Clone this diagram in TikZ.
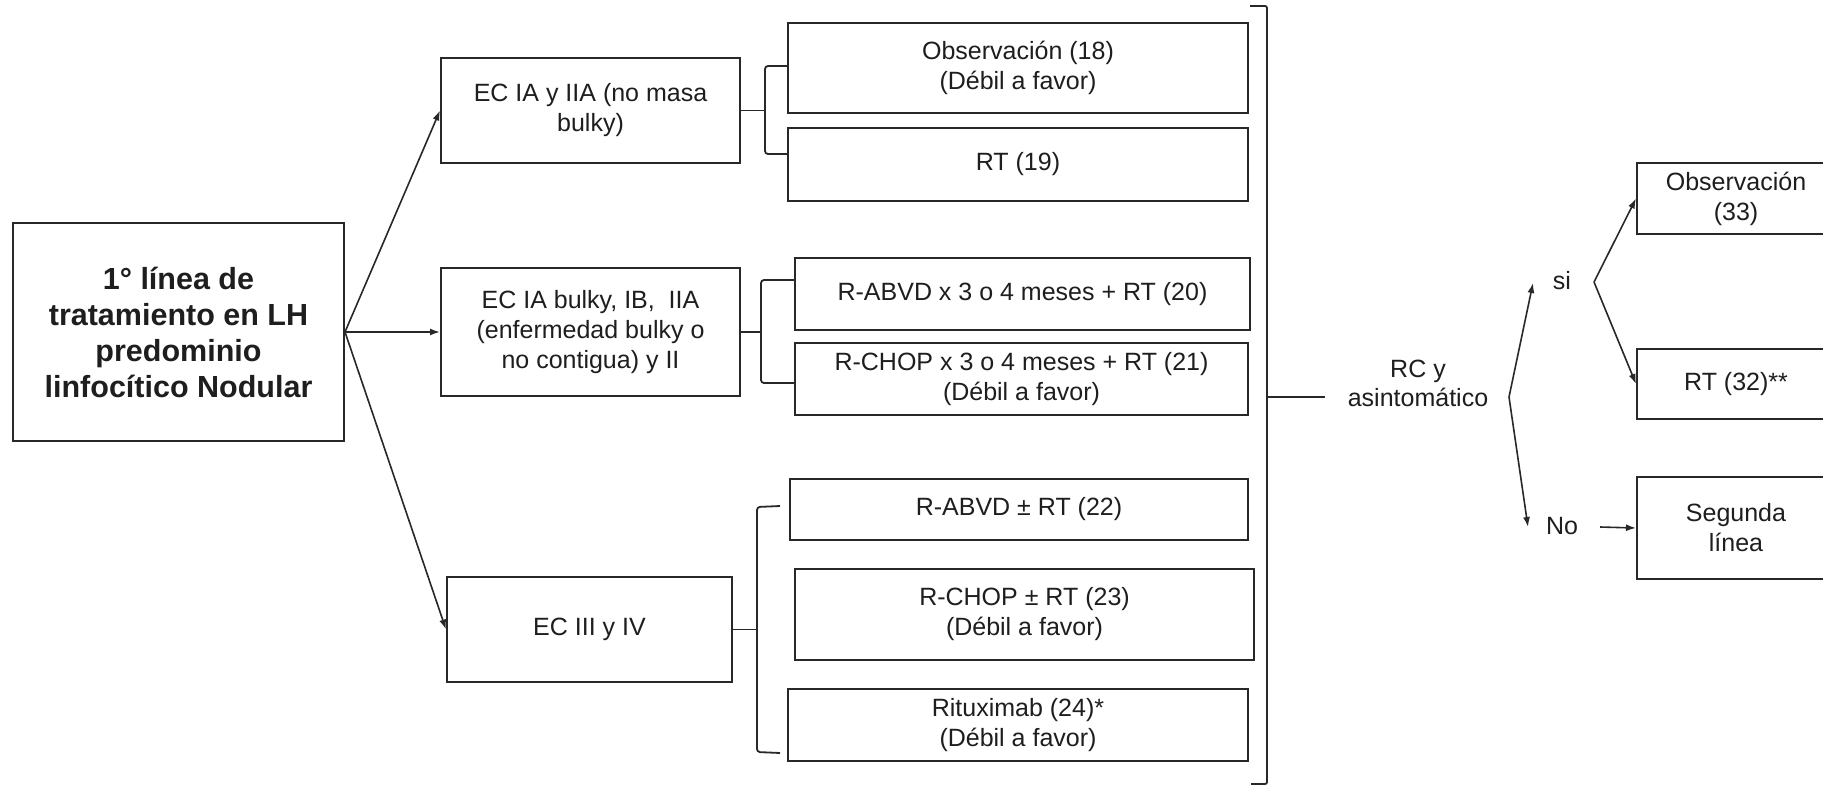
\documentclass[tikz,border=0pt]{standalone}
\usepackage{fontspec}
\setmainfont{Liberation Sans}
\usetikzlibrary{arrows.meta}
\definecolor{linec}{RGB}{40,40,40}
\definecolor{txtc}{RGB}{30,30,30}
\newcommand\bx[6]{\node[box, minimum width={(#4)-(#2)}, minimum height={(#5)-(#3)}] (#1) at ({((#2)+(#4))/2},{((#3)+(#5))/2}) {#6};}
\begin{document}
\begin{tikzpicture}[x=1pt,y=-1pt,
  box/.style={draw=linec, line width=2pt, inner sep=0pt, align=center, text=txtc, font=\fontsize{25}{30}\selectfont},
  conn/.style={draw=linec, line width=1.8pt},
  arr/.style={draw=linec, line width=1.6pt, -{Latex[length=10pt,width=7pt]}},
  lbl/.style={inner sep=0pt, align=center, text=txtc, font=\fontsize{25}{29}\selectfont}]
\useasboundingbox (0,0) rectangle (1823,785);
\clip (0,0) rectangle (1823,785);
\fill[white] (0,0) rectangle (1823,785);

% main box
\node[box, font=\fontsize{30.5}{36}\selectfont\bfseries, minimum width=331, minimum height=218] (main) at (178.5,332) {1° línea de\\tratamiento en LH\\predominio\\linfocítico Nodular};

% stage boxes
\bx{ecA}{441}{58}{740}{163}{EC IA y IIA (no masa\\bulky)}
\bx{ecB}{441}{268}{740}{396}{EC IA bulky, IB,\ \ IIA\\(enfermedad bulky o\\no contigua) y II}
\bx{ecC}{447}{577}{732}{682}{EC III y IV}

% treatment boxes
\bx{obs18}{788}{23}{1248}{113}{Observación (18)\\(Débil a favor)}
\bx{rt19}{788}{128}{1248}{201}{RT (19)}
\bx{rabvdA}{795}{258}{1250}{330}{R-ABVD x 3 o 4 meses + RT (20)}
\bx{rchopA}{795}{343}{1248}{415}{R-CHOP x 3 o 4 meses + RT (21)\\(Débil a favor)}
\bx{rabvdB}{790}{479}{1248}{540}{R-ABVD ± RT (22)}
\bx{rchopB}{795}{569}{1254}{660}{R-CHOP ± RT (23)\\(Débil a favor)}
\bx{ritux}{788}{689}{1248}{761}{Rituximab (24)*\\(Débil a favor)}

% right boxes
\bx{obs33}{1637}{163}{1835}{234}{Observación\\(33)}
\bx{rt32}{1637}{349}{1835}{419}{RT (32)**}
\bx{seg}{1637}{477}{1835}{579}{Segunda\\línea}

% labels
\node[lbl] (rc) at (1418,383) {RC y\\asintomático};
\node[lbl] (si) at (1562,281) {si};
\node[lbl] (no) at (1562,526) {No};

% arrows from main box
\draw[arr] (main.east) -- (ecA.west);
\draw[arr] (main.east) -- (ecB.west);
\draw[arr] (main.east) -- (ecC.west);

% brackets
\coordinate (bAt) at (765,66);
\coordinate (bAb) at (765,154);
\draw[conn] (ecA.east) -- (ecA.east -| bAt);
\draw[conn, rounded corners=3pt] (obs18.west |- bAt) -- (bAt) -- (bAb) -- (rt19.west |- bAb);

\coordinate (bBt) at (761,280);
\coordinate (bBb) at (761,383);
\draw[conn] (ecB.east) -- (ecB.east -| bBt);
\draw[conn, rounded corners=3pt] (rabvdA.west |- bBt) -- (bBt) -- (bBb) -- (rchopA.west |- bBb);

\coordinate (bCt) at (757,507);
\coordinate (bCb) at (757,752);
\coordinate (cCt) at (780,506);
\coordinate (cCb) at (780,753);
\draw[conn] (ecC.east) -- (ecC.east -| bCt);
\draw[conn, rounded corners=3pt] (cCt) -- (bCt) -- (bCb) -- (cCb);

% big bracket
\coordinate (gT0) at (1250,6);
\coordinate (gT) at (1267,6);
\coordinate (gB) at (1267,784);
\coordinate (gB0) at (1251,784);
\draw[conn, rounded corners=2pt] (gT0) -- (gT) -- (gB) -- (gB0);
\coordinate (gM) at (1267,397);
\coordinate (rcIn) at (1325,397);
\draw[conn] (gM) -- (rcIn);

% RC decision
\coordinate (rcOut) at (1509,397);
\coordinate (siTip) at (1533,283);
\coordinate (noTip) at (1528,527);
\draw[arr] (rcOut) -- (siTip);
\draw[arr] (rcOut) -- (noTip);
\coordinate (siOut) at (1594,282);
\draw[arr] (siOut) -- (obs33.west);
\draw[arr] (siOut) -- (rt32.west);
\coordinate (noOut) at (1600,527);
\draw[arr] (noOut) -- (seg.west);
\end{tikzpicture}
\end{document}
